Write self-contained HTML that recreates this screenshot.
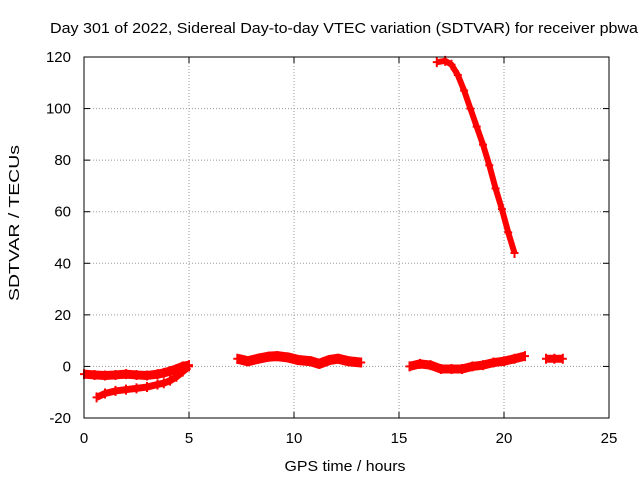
<!DOCTYPE html>
<html><head><meta charset="utf-8"><style>
body{margin:0;background:#fff}
svg{font-family:"Liberation Sans",sans-serif;font-size:14px}
</style></head><body>
<svg id="chart" width="640" height="480" xmlns="http://www.w3.org/2000/svg">
<text x="50" y="33" font-size="15" textLength="588" lengthAdjust="spacingAndGlyphs">Day 301 of 2022, Sidereal Day-to-day VTEC variation (SDTVAR) for receiver pbwa</text>
<text x="345" y="471" text-anchor="middle" font-size="15" textLength="121" lengthAdjust="spacingAndGlyphs">GPS time / hours</text>
<text transform="translate(19,223) rotate(-90)" text-anchor="middle" font-size="15" textLength="156" lengthAdjust="spacingAndGlyphs">SDTVAR / TECUs</text>
<g id="grid"></g><g id="marks"></g>
<rect x="84" y="57" width="525" height="361" fill="none" stroke="#000" stroke-width="1"/>
</svg>
<script>
const xTicks=[0,5,10,15,20,25];
const yTicks=[-20,0,20,40,60,80,100,120];
const segAx=[0,0.5,1,1.5,2,2.5,3,3.5,3.8,4.1,4.4,4.7,5];
const segAy=[-3,-3.3,-3.5,-3.3,-3,-3.3,-3.5,-3,-2.5,-1.8,-1,0,0.5];
const segBx=[0.6,1,1.5,2,2.5,3,3.5,3.8,4.1,4.4,4.7,5];
const segBy=[-12,-10.5,-9.5,-9,-8.5,-8,-7,-6.5,-5.5,-4,-2,0];
const segCx=[7.3,7.8,8.3,8.8,9.2,9.7,10.2,10.8,11.2,11.7,12.1,12.6,13.2];
const segCy=[3,2,3,3.8,4,3.5,2.5,2,1,2.5,3,2,1.5];
const segDx=[15.5,16,16.5,17,17.5,18,18.5,19,19.5,20,20.5,21];
const segDy=[0,1,0.5,-1,-1,-1,0,0.5,1.5,2,3,4];
const segEx=[22,22.4,22.8];
const segEy=[3,3,3];
const segFx=[16.8,17.2,17.5,17.8,18.1,18.4,18.7,19,19.3,19.6,19.9,20.2,20.5];
const segFy=[118,118.5,117,113,107,100,93,86,78,69,61,52,44];
const widths=[9,7,10,9,8,6];
const X=v=>84+v*21, Y=v=>57+(120-v)*361/140;
const NS="http://www.w3.org/2000/svg";
const grid=document.getElementById('grid'), marks=document.getElementById('marks');
function mk(t,a,p){const e=document.createElementNS(NS,t);for(const k in a)e.setAttribute(k,a[k]);p.appendChild(e);return e;}
xTicks.forEach(t=>{
 if(t>0&&t<25){const g=mk('line',{x1:X(t),x2:X(t),y1:57,y2:418,stroke:'#999','stroke-dasharray':'1,2'},grid);
 
 }
 mk('line',{x1:X(t),x2:X(t),y1:418,y2:412,stroke:'#000'},grid);
 mk('line',{x1:X(t),x2:X(t),y1:57,y2:63,stroke:'#000'},grid);
 const l=mk('text',{x:X(t),y:443,'text-anchor':'middle','font-size':15},grid);l.textContent=t;
 
 
});
yTicks.forEach(t=>{
 if(t>-20&&t<120){const g=mk('line',{x1:84,x2:609,y1:Y(t),y2:Y(t),stroke:'#999','stroke-dasharray':'1,2'},grid);
 
 }
 mk('line',{x1:84,x2:90,y1:Y(t),y2:Y(t),stroke:'#000'},grid);
 mk('line',{x1:603,x2:609,y1:Y(t),y2:Y(t),stroke:'#000'},grid);
 const l=mk('text',{x:71,y:Y(t)+5,'text-anchor':'end','font-size':15},grid);l.textContent=t;
 
 
});
[[segAx,segAy],[segBx,segBy],[segCx,segCy],[segDx,segDy],[segEx,segEy],[segFx,segFy]].forEach(([xs,ys],i)=>{
 const pts=xs.map((x,j)=>X(x)+','+Y(ys[j])).join(' ');
 const pl=mk('polyline',{points:pts,fill:'none',stroke:'#f00','stroke-width':widths[i],'stroke-linejoin':'round'},marks);
 
 
 xs.forEach((x,j)=>{const cx=X(x),cy=Y(ys[j]);
  const p=mk('path',{d:`M${cx-4},${cy}h8M${cx},${cy-5}v10`,stroke:'#f00','stroke-width':2},marks);
  
  });
});
</script>
</body></html>
